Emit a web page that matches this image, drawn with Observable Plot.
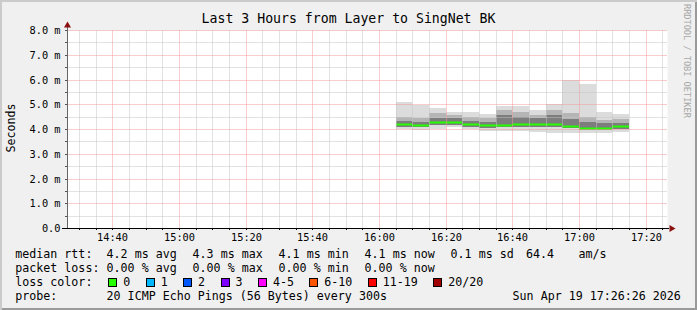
<!DOCTYPE html>
<html><head><meta charset="utf-8">
<script src="https://cdn.jsdelivr.net/npm/d3@7"></script>
<script src="https://cdn.jsdelivr.net/npm/@observablehq/plot@0.6"></script>
<style>
html,body{margin:0;padding:0;background:#f0f0f0;}
#wrap{position:relative;width:697px;height:310px;background:#f0f0f0;overflow:hidden;font-family:"DejaVu Sans Mono",monospace;color:#000;}
#shade{position:absolute;left:0;top:0;width:697px;height:310px;box-shadow:inset 2px 2px 0 #cbcbcb, inset -2px -2px 0 #9a9a9a;pointer-events:none;z-index:5;}
#chart{position:absolute;left:0;top:0;}
.t{position:absolute;white-space:pre;font-size:11.65px;line-height:14px;}
.box{position:absolute;box-sizing:border-box;width:9px;height:9px;border:1px solid #000;}
#title{position:absolute;left:0;top:11px;width:697px;text-align:center;font-size:13.2px;line-height:16px;white-space:pre;}
#ylab{position:absolute;left:-19px;top:121px;width:60px;text-align:center;font-size:11.65px;line-height:14px;transform:rotate(-90deg);}
#wm{position:absolute;left:682px;top:4px;writing-mode:vertical-rl;font-size:8.6px;line-height:10px;color:#a8a8a8;white-space:pre;}
</style></head>
<body>
<div id="wrap"><div id="chart"></div><div id="shade"></div></div>
<script>
// ---- data ----
const titleText = "Last 3 Hours from Layer to SingNet BK";
const yLabel = "Seconds";
const watermark = "RRDTOOL / TOBI OETIKER";
const graphEnd = "2026-04-19T17:26:26Z";
const spanHours = 3;
const binTimes = ["16:05","16:10","16:15","16:20","16:25","16:30","16:35","16:40","16:45","16:50","16:55","17:00","17:05","17:10"];
const pingMax   = [5.08,4.97,4.84,4.67,4.67,4.61,4.94,4.93,4.77,5.00,5.98,5.82,4.67,4.59];
const pingHi2   = [4.50,4.46,4.63,4.57,4.50,4.43,4.77,4.70,4.57,4.77,4.63,4.50,4.36,4.39];
const pingHi1   = [4.32,4.29,4.43,4.43,4.32,4.29,4.57,4.50,4.43,4.57,4.39,4.29,4.23,4.25];
const medianRtt = [4.19,4.16,4.29,4.29,4.20,4.16,4.16,4.19,4.19,4.19,4.13,4.06,4.06,4.13];
const pingLo1   = [4.09,4.07,4.16,4.16,4.09,4.05,4.07,4.09,4.07,4.07,4.03,3.96,3.96,4.01];
const pingMin   = [4.01,3.96,4.00,4.09,3.99,3.92,3.92,3.93,3.89,3.85,3.83,3.85,3.85,3.89];
const yTicks = [0,1,2,3,4,5,6,7,8];
const rttHead = "median rtt:";
const rttStats = ["4.2 ms avg","4.3 ms max","4.1 ms min","4.1 ms now","0.1 ms sd"];
const amValue = "64.4", amUnit = "am/s";
const lossHead = "packet loss:";
const lossStats = ["0.00 % avg","0.00 % max","0.00 % min","0.00 % now"];
const colorHead = "loss color:";
const lossLabels = ["0","1","2","3","4-5","6-10","11-19","20/20"];
const lossColors = ["#26ff00","#00b8ff","#0059ff","#7e00ff","#ff00ff","#ff5500","#ff0000","#a10000"];
const probeHead = "probe:";
const probeText = "20 ICMP Echo Pings (56 Bytes) every 300s";
const dateText = "Sun Apr 19 17:26:26 2026";

// ---- build ----
const tEnd = new Date(graphEnd);
const tStart = new Date(+tEnd - spanHours*3600e3);
const day = Date.UTC(tEnd.getUTCFullYear(), tEnd.getUTCMonth(), tEnd.getUTCDate());
const at = s => { const [h,m] = s.split(":").map(Number); return new Date(day + (h*60+m)*60e3); };
const bins = binTimes.map((s,i) => ({t0: at(s), t1: new Date(+at(s) + 5*60e3),
  max: pingMax[i], hi2: pingHi2[i], hi1: pingHi1[i], med: medianRtt[i], lo1: pingLo1[i], min: pingMin[i]}));
const majorX = d3.utcMinute.every(20).range(tStart, tEnd);
const minorX = d3.utcMinute.every(5).range(tStart, tEnd).filter(d => d.getUTCMinutes() % 20 !== 0);
const minorY = d3.range(0.5, 8, 1);
const majorY = yTicks.filter(d => d > 0);
const allY = d3.range(0, 8.01, 0.5);
const gridGrey = "#c4c4c4", gridRed = "#f29a9a";
const dotted = {strokeDasharray: "1,1", strokeDashoffset: 0.5};

const chart = Plot.plot({
  width: 697, height: 250,
  marginLeft: 67, marginRight: 30, marginTop: 30, marginBottom: 22,
  style: {background: "transparent", fontFamily: "DejaVu Sans Mono", fontSize: "10.3px", color: "#000"},
  x: {type: "utc", domain: [tStart, tEnd], label: null, round: true},
  y: {domain: [0, 8], label: null, round: true},
  marks: [
    Plot.frame({fill: "white", stroke: null}),
    Plot.rect(bins, {x1: "t0", x2: "t1", y1: "min", y2: "max", fill: "#dcdcdc"}),
    Plot.rect(bins, {x1: "t0", x2: "t1", y1: "lo1", y2: "hi2", fill: "#b5b5b5"}),
    Plot.rect(bins, {x1: "t0", x2: "t1", y1: "lo1", y2: "hi1", fill: "#7d7d7d"}),
    Plot.ruleY(bins, {y: "med", x1: "t0", x2: "t1", stroke: "#26ff00", strokeWidth: 2}),
    Plot.ruleX(minorX, {stroke: gridGrey, ...dotted}),
    Plot.ruleY(minorY, {stroke: gridGrey, ...dotted}),
    Plot.ruleX(majorX, {stroke: gridRed, ...dotted}),
    Plot.ruleY(majorY, {stroke: gridRed, ...dotted}),
    Plot.axisY({ticks: allY, tickSize: 2, tickFormat: () => "", stroke: "#555"}),
    Plot.axisY({ticks: yTicks, tickSize: 0, tickPadding: 7, tickFormat: d => d === 0 ? "0.0" : d.toFixed(1) + " m"}),
    Plot.axisX({ticks: d3.utcMinute.every(5).range(tStart, tEnd), tickSize: 2, tickFormat: () => "", stroke: "#000"}),
    Plot.axisX({ticks: majorX, tickSize: 0, tickPadding: 5, tickFormat: d3.utcFormat("%H:%M")}),
    Plot.ruleX([tStart], {y1: 0, y2: 8.2, stroke: "#666"}),
    Plot.ruleY([0], {x1: new Date(+tStart - 90e3), x2: new Date(+tEnd + 40e3), stroke: "#000"}),
    Plot.dot([tStart], {x: d => d, y: () => 8.2, symbol: "triangle", r: 2.6, fill: "#8b1010", stroke: null}),
    Plot.dot([tEnd], {x: d => new Date(+d + 80e3), y: () => 0, symbol: "triangle", r: 2.6, rotate: 90, fill: "#8b1010", stroke: null})
  ]
});
document.getElementById("chart").appendChild(chart);

// ---- texts ----
const wrap = document.getElementById("wrap");
function add(cls, txt, x, y) {
  const el = document.createElement("div");
  el.className = cls; el.textContent = txt;
  el.style.left = x + "px"; el.style.top = y + "px";
  wrap.appendChild(el); return el;
}
const title = document.createElement("div"); title.id = "title"; title.textContent = titleText; wrap.appendChild(title);
const yl = document.createElement("div"); yl.id = "ylab"; yl.textContent = yLabel; wrap.appendChild(yl);
const wm = document.createElement("div"); wm.id = "wm"; wm.textContent = watermark; wrap.appendChild(wm);

const cw = 7.02;
const x0 = 15.3, xc = 106.6, colStep = 86;
const rowTop = [247.3, 260.7, 275.3, 288.7];
add("t", rttHead, x0, rowTop[0]);
rttStats.forEach((s, i) => add("t", s, xc + i*colStep, rowTop[0]));
add("t", amValue, 525.9, rowTop[0]);
add("t", amUnit, 578.6, rowTop[0]);
add("t", lossHead, x0, rowTop[1]);
lossStats.forEach((s, i) => add("t", s, xc + i*colStep, rowTop[1]));
add("t", colorHead, x0, rowTop[2]);
let bx = 108.3;
lossLabels.forEach((lab, i) => {
  const b = add("box", "", bx, 278.2); b.style.background = lossColors[i];
  add("t", lab, bx + 15.0, rowTop[2]);
  bx += 37.4 + (lab.length - 1) * cw;
});
add("t", probeHead, x0, rowTop[3]);
add("t", probeText, xc, rowTop[3]);
add("t", dateText, 512.6, rowTop[3]);
</script>
</body></html>
